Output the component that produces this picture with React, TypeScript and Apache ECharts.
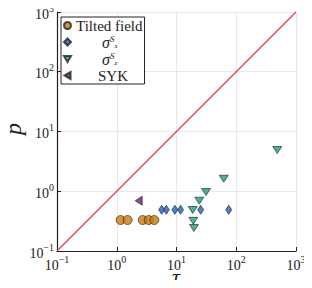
import React, { useEffect, useRef } from "react";
import * as echarts from "echarts";

const tiltedField: [number, number][] = [
  [1.16, 0.33], [1.52, 0.33], [2.72, 0.33], [3.43, 0.33], [4.25, 0.33],
];
const sigmaX: [number, number][] = [
  [5.65, 0.49], [6.75, 0.49], [9.4, 0.49], [11.7, 0.49], [25.4, 0.49], [74.8, 0.49],
];
const sigmaZ: [number, number][] = [
  [19.1, 0.32], [18.7, 0.485], [19.6, 0.243], [24.1, 0.695], [31.2, 0.97], [61.7, 1.62], [486, 4.9],
];
const syk: [number, number][] = [[2.33, 0.695]];
const diagonal: [number, number][] = [[0.1, 0.1], [1000, 1000]];

const seriesNames = ["Tilted field", "sigmaX", "sigmaZ", "SYK"];
const xName = "τ";
const yName = "p";

const FONT = "Liberation Serif";
const DOWN_TRI = "path://M0,0L10,0L5,8.66Z";
const LEFT_TRI = "path://M8.66,0L8.66,10L0,5Z";

function tickLabel(v: number): string {
  const e = Math.round(Math.log10(v));
  const s = e < 0 ? "\u2212" + Math.abs(e) : String(e);
  return `{b|10}{s|${s}}`;
}

const tickRich = {
  b: { fontFamily: FONT, fontSize: 14, color: "#222", lineHeight: 18, verticalAlign: "bottom" },
  s: { fontFamily: FONT, fontSize: 10, color: "#222", lineHeight: 18, verticalAlign: "top" },
};

export default function App() {
  const ref = useRef<HTMLDivElement>(null);
  useEffect(() => {
    if (!ref.current) return;
    const chart = echarts.init(ref.current, undefined, { renderer: "svg" });
    const edge = { borderColor: "#222", borderWidth: 0.8 };
    chart.setOption({
      animation: false,
      backgroundColor: "#fff",
      grid: { left: 57, right: 16, top: 12, bottom: 37, containLabel: false, outerBoundsMode: "none" },
      graphic: [
        {
          type: "text",
          x: 176,
          y: 276,
          style: {
            text: xName,
            fontFamily: FONT,
            fontSize: 22,
            fontStyle: "italic",
            fill: "#222",
            align: "center",
            verticalAlign: "middle",
          },
        },
        {
          type: "text",
          x: 13,
          y: 129,
          rotation: Math.PI / 2,
          style: {
            text: yName,
            fontFamily: FONT,
            fontSize: 24,
            fontStyle: "italic",
            fill: "#222",
            align: "center",
            verticalAlign: "middle",
          },
        },
      ],
      legend: {
        orient: "vertical",
        left: 61,
        top: 17,
        data: seriesNames,
        backgroundColor: "#fff",
        borderColor: "#222",
        borderWidth: 1,
        borderRadius: 0,
        padding: [1, 2, 1, 2],
        itemGap: 1,
        itemWidth: 7,
        itemHeight: 7,
        formatter: (name: string) => {
          if (name === "sigmaX") return "{sp|}{g|σ}{sup|S}{sub|x}";
          if (name === "sigmaZ") return "{sp|}{g|σ}{sup|S}{sub|z}";
          if (name === "SYK") return "{sp2|}{t|SYK}";
          return "{t|" + name + "}";
        },
        textStyle: {
          fontFamily: FONT,
          fontSize: 15,
          color: "#222",
          rich: {
            t: { fontFamily: FONT, fontSize: 15, color: "#222", lineHeight: 14 },
            g: { fontFamily: FONT, fontSize: 16, fontStyle: "italic", color: "#222", lineHeight: 14 },
            sup: { fontFamily: FONT, fontSize: 9, fontStyle: "italic", color: "#222", verticalAlign: "top", lineHeight: 14 },
            sub: { fontFamily: FONT, fontSize: 7, fontStyle: "italic", color: "#222", verticalAlign: "bottom", lineHeight: 14 },
            sp: { width: 26 },
            sp2: { width: 22 },
          },
        },
      },
      xAxis: {
        type: "log",
        logBase: 10,
        min: 0.1,
        max: 1000,
        axisLine: { show: true, lineStyle: { color: "#222", width: 1.2 } },
        axisTick: { show: true, inside: true, length: 4, lineStyle: { color: "#222" } },
        minorTick: { show: false },
        splitLine: { show: true, lineStyle: { color: "#e8e8e8", width: 1 } },
        axisLabel: {
          formatter: tickLabel,
          rich: tickRich,
          margin: 3,
          showMinLabel: true,
          showMaxLabel: true,
        },
      },
      yAxis: {
        type: "log",
        logBase: 10,
        min: 0.1,
        max: 1000,
        axisLine: { show: true, lineStyle: { color: "#222", width: 1.2 } },
        axisTick: { show: true, inside: true, length: 4, lineStyle: { color: "#222" } },
        minorTick: { show: false },
        splitLine: { show: true, lineStyle: { color: "#e8e8e8", width: 1 } },
        axisLabel: {
          formatter: tickLabel,
          rich: tickRich,
          margin: 3,
          showMinLabel: true,
          showMaxLabel: true,
        },
      },
      series: [
        {
          name: "diag",
          type: "line",
          data: diagonal,
          showSymbol: false,
          symbol: "none",
          lineStyle: { color: "#e8403c", width: 1.2 },
          z: 1,
          silent: true,
        },
        {
          name: "Tilted field",
          type: "scatter",
          data: tiltedField,
          symbol: "circle",
          symbolSize: 9,
          itemStyle: { color: "#cc7a0a", ...edge },
          z: 3,
        },
        {
          name: "sigmaX",
          type: "scatter",
          data: sigmaX,
          symbol: "diamond",
          symbolSize: [6, 9],
          itemStyle: { color: "#1f5fc4", ...edge },
          z: 3,
        },
        {
          name: "sigmaZ",
          type: "scatter",
          data: sigmaZ,
          symbol: DOWN_TRI,
          symbolSize: [9, 7],
          itemStyle: { color: "#13a283", ...edge },
          z: 3,
        },
        {
          name: "SYK",
          type: "scatter",
          data: syk,
          symbol: LEFT_TRI,
          symbolSize: [7, 9],
          itemStyle: { color: "#7a1a72", ...edge },
          z: 3,
        },
      ],
    });
    return () => chart.dispose();
  }, []);
  return <div ref={ref} style={{ width: 312, height: 288, margin: -8 }} />;
}
